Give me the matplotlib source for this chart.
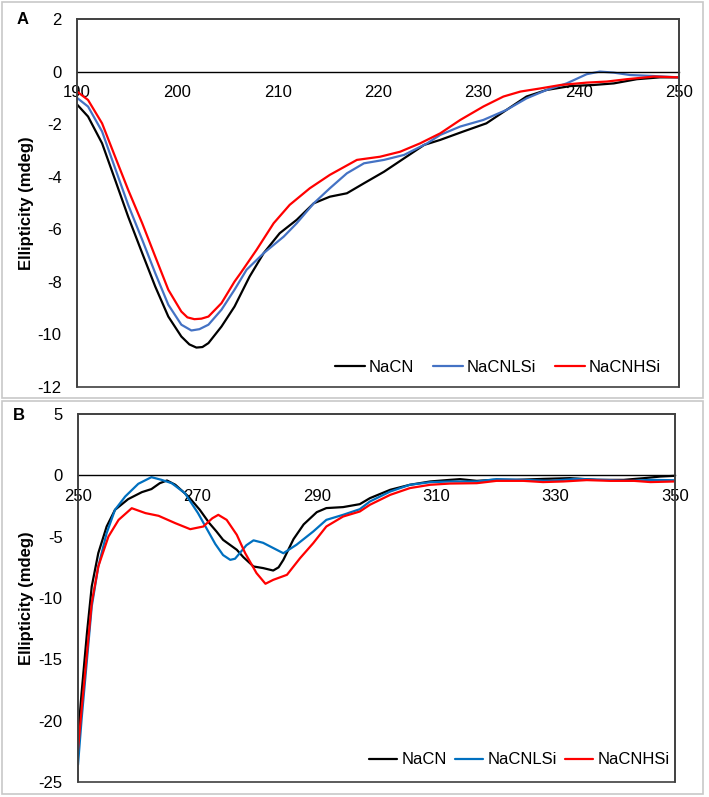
import matplotlib
matplotlib.use("Agg")
import matplotlib.pyplot as plt
from matplotlib.patches import Rectangle

plt.rcParams["font.family"] = ["Liberation Sans", "DejaVu Sans"]
plt.rcParams["axes.unicode_minus"] = False

fs = 12  # font size
lw = 1.6  # line width
W, H = 709, 797

# ---- panel A data (190-250 nm) ----
a_nacn_x = [190.0, 191.1, 192.5, 193.8, 195.1, 196.5, 197.8, 199.1, 200.4, 201.2, 201.9, 202.5,
            203.1, 204.4, 205.7, 207.2, 208.6, 210.2, 211.9, 213.6, 215.2, 216.9, 218.6, 220.6,
            222.6, 224.6, 226.2, 228.5, 230.8, 232.8, 234.8, 236.8, 239.2, 241.5, 243.5, 245.8,
            248.1, 250.0]
a_nacn_y = [-1.25, -1.71, -2.73, -4.12, -5.52, -6.91, -8.18, -9.32, -10.08, -10.38, -10.5, -10.48,
            -10.33, -9.7, -8.94, -7.8, -6.91, -6.15, -5.64, -5.01, -4.76, -4.63, -4.25, -3.81,
            -3.3, -2.79, -2.6, -2.28, -1.97, -1.46, -0.95, -0.7, -0.55, -0.51, -0.45, -0.29,
            -0.22, -0.22]

a_lsi_x = [190.0, 191.1, 192.5, 193.8, 195.1, 196.5, 197.8, 199.1, 200.4, 201.4, 202.2, 203.1,
           204.4, 205.7, 206.9, 208.6, 210.6, 211.9, 213.6, 215.2, 216.9, 218.6, 220.6, 222.6,
           224.9, 226.2, 228.2, 230.5, 232.8, 234.8, 236.8, 238.8, 240.8, 242.1, 243.5, 245.1,
           247.5, 250.0]
a_lsi_y = [-1.0, -1.33, -2.28, -3.68, -5.07, -6.4, -7.67, -8.87, -9.63, -9.85, -9.8, -9.63,
           -9.06, -8.3, -7.54, -6.91, -6.28, -5.77, -5.01, -4.44, -3.87, -3.49, -3.36, -3.17,
           -2.73, -2.41, -2.09, -1.84, -1.46, -1.02, -0.7, -0.45, -0.1, 0.0, -0.04, -0.13,
           -0.17, -0.22]

a_hsi_x = [190.0, 191.1, 192.5, 193.8, 195.1, 196.5, 197.8, 199.1, 200.4, 201.0, 201.7, 202.4,
           203.1, 204.4, 205.7, 206.3, 207.9, 209.6, 211.2, 213.2, 215.2, 217.9, 220.2, 222.2,
           224.2, 226.2, 228.2, 230.5, 232.5, 234.2, 236.2, 238.2, 240.8, 242.8, 244.8, 247.5,
           250.0]
a_hsi_y = [-0.76, -1.08, -1.97, -3.24, -4.5, -5.77, -7.04, -8.3, -9.13, -9.35, -9.42, -9.4,
           -9.32, -8.81, -7.99, -7.67, -6.78, -5.77, -5.07, -4.44, -3.93, -3.36, -3.24, -3.05,
           -2.73, -2.35, -1.84, -1.33, -0.95, -0.76, -0.64, -0.51, -0.42, -0.38, -0.29, -0.19,
           -0.22]

# ---- panel B data (250-350 nm) ----
b_nacn_x = [250.0, 250.6, 251.5, 252.3, 253.4, 254.8, 256.2, 258.4, 260.7, 262.3, 263.7, 264.9,
            266.3, 268.5, 270.4, 272.0, 273.2, 274.3, 276.6, 277.7, 279.4, 281.0, 282.7, 283.6,
            284.4, 286.1, 287.8, 290.0, 291.6, 294.4, 297.2, 298.9, 302.3, 305.6, 309.0, 312.3,
            314.0, 316.8, 319.6, 323.4, 327.9, 332.4, 336.9, 341.4, 344.8, 347.5, 350.0]
b_nacn_y = [-21.3, -17.75, -12.86, -9.06, -6.34, -4.17, -2.81, -1.94, -1.37, -1.12, -0.64, -0.42,
            -0.77, -1.73, -2.81, -3.9, -4.58, -5.26, -6.07, -6.67, -7.43, -7.56, -7.76, -7.5,
            -6.89, -5.2, -4.0, -3.0, -2.67, -2.59, -2.35, -1.86, -1.18, -0.77, -0.5, -0.37,
            -0.31, -0.45, -0.37, -0.37, -0.29, -0.23, -0.37, -0.37, -0.23, -0.1, -0.04]

b_lsi_x = [250.0, 250.6, 251.5, 252.3, 253.4, 254.8, 256.2, 257.9, 260.1, 262.3, 264.0, 265.7,
           267.9, 270.1, 271.5, 273.0, 274.3, 275.5, 276.3, 277.1, 278.2, 279.4, 281.0, 282.2,
           284.4, 286.6, 289.4, 291.6, 294.4, 297.2, 298.9, 302.3, 305.6, 309.0, 312.3, 316.8,
           320.1, 324.6, 329.0, 333.5, 338.0, 342.5, 345.9, 350.0]
b_lsi_y = [-23.6, -19.9, -15.04, -10.69, -7.43, -4.71, -2.81, -1.73, -0.69, -0.15, -0.37, -0.64,
           -1.45, -3.08, -4.3, -5.6, -6.5, -6.89, -6.8, -6.34, -5.7, -5.3, -5.5, -5.8,
           -6.35, -5.66, -4.58, -3.63, -3.22, -2.76, -2.13, -1.32, -0.77, -0.56, -0.5, -0.5,
           -0.31, -0.37, -0.45, -0.29, -0.37, -0.45, -0.37, -0.4]

b_hsi_x = [250.0, 250.6, 251.5, 252.3, 253.4, 255.1, 256.8, 259.0, 261.3, 263.5, 266.3, 268.8,
           271.0, 272.5, 273.5, 274.9, 276.6, 278.0, 279.9, 281.4, 282.7, 285.0, 286.1, 287.2,
           289.4, 291.6, 294.4, 297.2, 298.9, 302.3, 305.6, 309.0, 312.3, 316.8, 320.1, 324.6,
           327.9, 331.3, 335.2, 339.2, 343.1, 345.9, 350.0]
b_hsi_y = [-22.4, -19.1, -14.5, -10.4, -7.43, -4.99, -3.63, -2.68, -3.08, -3.3, -3.9, -4.39,
           -4.17, -3.5, -3.22, -3.63, -4.85, -6.34, -7.97, -8.84, -8.52, -8.11, -7.43, -6.75,
           -5.53, -4.17, -3.36, -2.95, -2.4, -1.59, -1.04, -0.77, -0.67, -0.64, -0.45, -0.45,
           -0.55, -0.5, -0.39, -0.45, -0.45, -0.55, -0.5]

labels = ["NaCN", "NaCNLSi", "NaCNHSi"]


def px_axes(fig, left, top, right, bottom):
    # axes placed from pixel edges of the reference
    return fig.add_axes([left / W, 1 - bottom / H, (right - left) / W, (bottom - top) / H])


def panel_border(fig, left, top, right, bottom):
    rect = Rectangle((left / W, 1 - bottom / H), (right - left) / W, (bottom - top) / H,
                     transform=fig.transFigure, fill=False, edgecolor="#c8c8c8", linewidth=1.2)
    fig.add_artist(rect)


def style_axes(ax, xlim, xticks, ylim, yticks):
    ax.set_xlim(*xlim)
    ax.set_ylim(*ylim)
    ax.set_xticks(xticks)
    ax.set_yticks(yticks)
    ax.set_xticklabels([str(t) for t in xticks])
    ax.set_yticklabels([str(t) for t in yticks])
    # x axis crosses at y = 0, box kept with a rectangle
    ax.spines["bottom"].set_position(("data", 0))
    ax.spines["bottom"].set_color("black")
    ax.spines["bottom"].set_linewidth(1.0)
    for s in ("top", "left", "right"):
        ax.spines[s].set_color("#404040")
        ax.spines[s].set_linewidth(1.2)
    ax.add_patch(Rectangle((0, 0), 1, 1, transform=ax.transAxes, fill=False,
                           edgecolor="#404040", linewidth=1.2, clip_on=False, zorder=5))
    ax.tick_params(axis="x", length=0, pad=10, labelsize=fs)
    ax.tick_params(axis="y", length=0, pad=11, labelsize=fs)


fig = plt.figure(figsize=(W / 100, H / 100), dpi=100)

panel_border(fig, 2, 2, 703, 398)
panel_border(fig, 2, 401, 703, 794)

line_kw = dict(linewidth=lw, solid_joinstyle="round", solid_capstyle="round")

# ---- panel A ----
axa = px_axes(fig, 77, 19, 679, 387)
axa.plot(a_nacn_x, a_nacn_y, color="black", label=labels[0], **line_kw)
axa.plot(a_lsi_x, a_lsi_y, color="#4472C4", label=labels[1], **line_kw)
axa.plot(a_hsi_x, a_hsi_y, color="#FF0000", label=labels[2], **line_kw)
style_axes(axa, (190, 250), list(range(190, 251, 10)), (-12, 2), list(range(-12, 3, 2)))
axa.legend(loc="center", bbox_to_anchor=(0.699, 0.054), ncol=3, frameon=False, fontsize=fs,
           handlelength=1.8, handletextpad=0.25, columnspacing=1.1, borderpad=0, borderaxespad=0)

# ---- panel B ----
axb = px_axes(fig, 78, 414, 675, 782)
axb.plot(b_nacn_x, b_nacn_y, color="black", label=labels[0], **line_kw)
axb.plot(b_lsi_x, b_lsi_y, color="#0070C0", label=labels[1], **line_kw)
axb.plot(b_hsi_x, b_hsi_y, color="#FF0000", label=labels[2], **line_kw)
style_axes(axb, (250, 350), list(range(250, 351, 20)), (-25, 5), list(range(-25, 6, 5)))
axb.legend(loc="center", bbox_to_anchor=(0.739, 0.060), ncol=3, frameon=False, fontsize=fs,
           handlelength=1.7, handletextpad=0.25, columnspacing=0.5, borderpad=0, borderaxespad=0)

# axis titles and panel letters
fig.text(26 / W, 1 - 203 / H, "Ellipticity (mdeg)", rotation=90, ha="center", va="center",
         fontsize=fs, fontweight="bold")
fig.text(26 / W, 1 - 598 / H, "Ellipticity (mdeg)", rotation=90, ha="center", va="center",
         fontsize=fs, fontweight="bold")
fig.text(23 / W, 1 - 19 / H, "A", ha="center", va="center", fontsize=fs, fontweight="bold")
fig.text(19 / W, 1 - 415 / H, "B", ha="center", va="center", fontsize=fs, fontweight="bold")

fig.savefig("out.png", dpi=100, facecolor="white")
